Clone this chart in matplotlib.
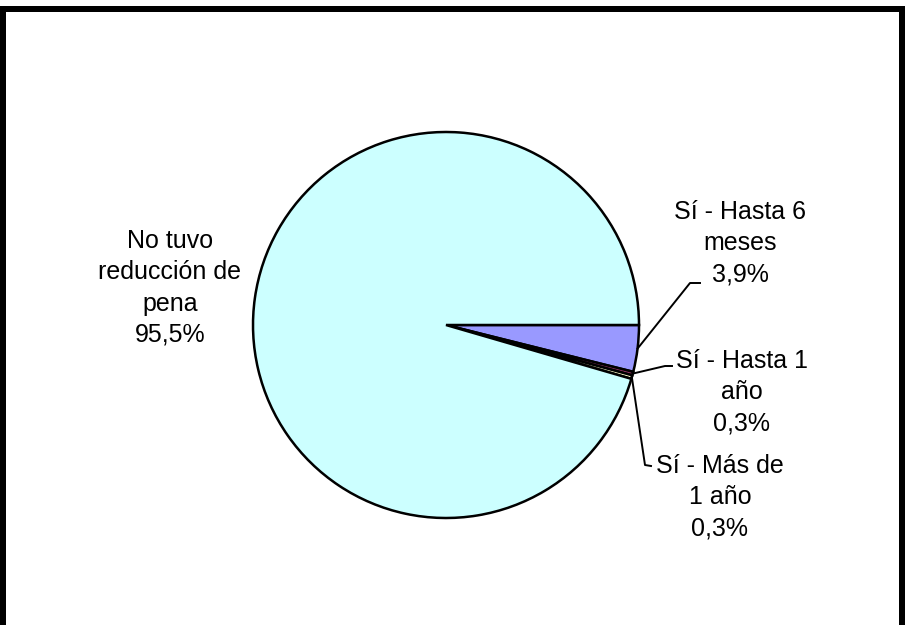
import matplotlib
matplotlib.use('Agg')
import matplotlib.pyplot as plt
import numpy as np
from matplotlib.lines import Line2D

plt.rcParams['font.family'] = ['Liberation Sans', 'DejaVu Sans']

# reducción de pena
categorias = ['Sí - Hasta 6\nmeses', 'Sí - Hasta 1\naño', 'Sí - Más de\n1 año', 'No tuvo\nreducción de\npena']
porcentajes = [3.9, 0.3, 0.3, 95.5]
colores = ['#9999FF', '#993366', '#FFFFCC', '#CCFFFF']

W, H = 906, 625
cx, cy, r = 446, 325, 193  # centro y radio en pixeles

fig = plt.figure(figsize=(W / 100, H / 100), dpi=100)
ax = fig.add_axes([(cx - r) / W, (H - cy - r) / H, 2 * r / W, 2 * r / H])
wedges, _ = ax.pie(porcentajes, colors=colores, startangle=0, counterclock=False,
                   radius=1, wedgeprops=dict(edgecolor='black', linewidth=1.8))
ax.set_xlim(-1, 1)
ax.set_ylim(-1, 1)
ax.set_aspect('equal')
ax.axis('off')


def px(x, y):
    return (x - cx) / r, (cy - y) / r


# posición de etiquetas y codos de las líneas guía (pixeles)
pos_texto = [(740, 243), (742, 392), (720, 497), (170, 288)]
codos = [[(690, 283), (700, 283)], [(665, 366), (672, 366)], [(645, 465), (651, 466)], None]

for w, cat, val, (tx, ty), codo in zip(wedges, categorias, porcentajes, pos_texto, codos):
    etiqueta = cat + '\n' + ('%.1f%%' % val).replace('.', ',')
    x, y = px(tx, ty)
    ax.text(x, y, etiqueta, ha='center', va='center', fontsize=18,
            linespacing=1.38, clip_on=False)
    if codo:
        ang = np.deg2rad((w.theta1 + w.theta2) / 2)
        xs = [np.cos(ang)] + [px(*p)[0] for p in codo]
        ys = [np.sin(ang)] + [px(*p)[1] for p in codo]
        ax.plot(xs, ys, color='black', linewidth=1.4, clip_on=False)

# marco exterior
lw = 6 * 72 / 100
fig.add_artist(Line2D([3 / W, 3 / W, 902 / W, 902 / W], [0, 1 - 9 / H, 1 - 9 / H, 0],
                      transform=fig.transFigure, color='black', linewidth=lw,
                      solid_joinstyle='miter'))

fig.savefig('out.png', dpi=100, facecolor='white')
